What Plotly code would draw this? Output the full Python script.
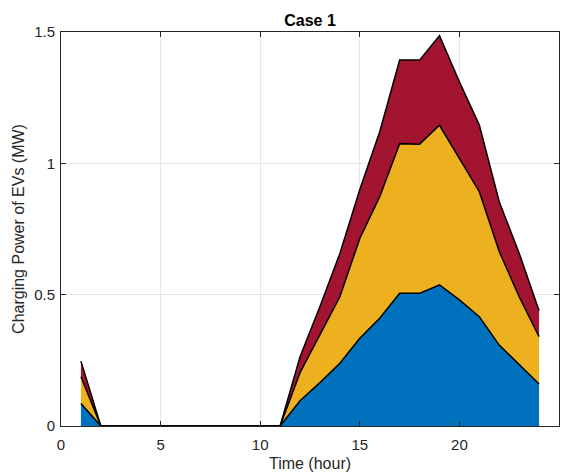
import plotly.graph_objects as go

hours = list(range(1, 25))
ev_group1 = [0.086, 0, 0, 0, 0, 0, 0, 0, 0, 0, 0, 0.096, 0.165, 0.239, 0.334, 0.410,
             0.505, 0.505, 0.537, 0.480, 0.416, 0.308, 0.232, 0.160]
ev_group2 = [0.102, 0, 0, 0, 0, 0, 0, 0, 0, 0, 0, 0.107, 0.183, 0.253, 0.380, 0.463,
             0.570, 0.568, 0.608, 0.539, 0.476, 0.356, 0.260, 0.180]
ev_group3 = [0.059, 0, 0, 0, 0, 0, 0, 0, 0, 0, 0, 0.061, 0.107, 0.165, 0.186, 0.247,
             0.318, 0.320, 0.341, 0.291, 0.254, 0.190, 0.166, 0.099]

colors = ["#0072BD", "#EDB120", "#A2142F"]
series = [ev_group1, ev_group2, ev_group3]

fig = go.Figure()
for vals, c in zip(series, colors):
    fig.add_trace(go.Scatter(
        x=hours, y=vals, stackgroup="ev", mode="lines",
        line=dict(color="black", width=1.5),
        fillcolor=c, showlegend=False,
    ))

font = "Liberation Sans, Arial, sans-serif"
axis_common = dict(
    showline=True, linecolor="#262626", linewidth=1, mirror="ticks",
    ticks="inside", ticklen=5, tickcolor="#262626",
    showgrid=True, gridcolor="#E6E6E6", gridwidth=1,
    zeroline=False, automargin=False,
    tickfont=dict(family=font, size=15, color="#262626"),
)
fig.update_layout(
    width=567, height=475,
    margin=dict(l=61, r=8, t=32, b=49),
    paper_bgcolor="white", plot_bgcolor="white",
    title=dict(text="<b>Case 1</b>", x=0.5, xref="paper", xanchor="center",
               y=0.958, yanchor="middle",
               font=dict(family=font, size=16, color="black")),
    xaxis=dict(range=[0, 25], tickvals=[0, 5, 10, 15, 20, 25], ticklabelstandoff=5,
               title=dict(text="Time (hour)", standoff=5,
                          font=dict(family=font, size=16, color="#262626")),
               **axis_common),
    yaxis=dict(range=[0, 1.5], tickvals=[0, 0.5, 1, 1.5], ticktext=["0", "0.5", "1", "1.5"],
               ticklabelstandoff=2,
               title=dict(text="Charging Power of EVs (MW)", standoff=5,
                          font=dict(family=font, size=16, color="#262626")),
               **axis_common),
)

fig.write_html("out.html")
